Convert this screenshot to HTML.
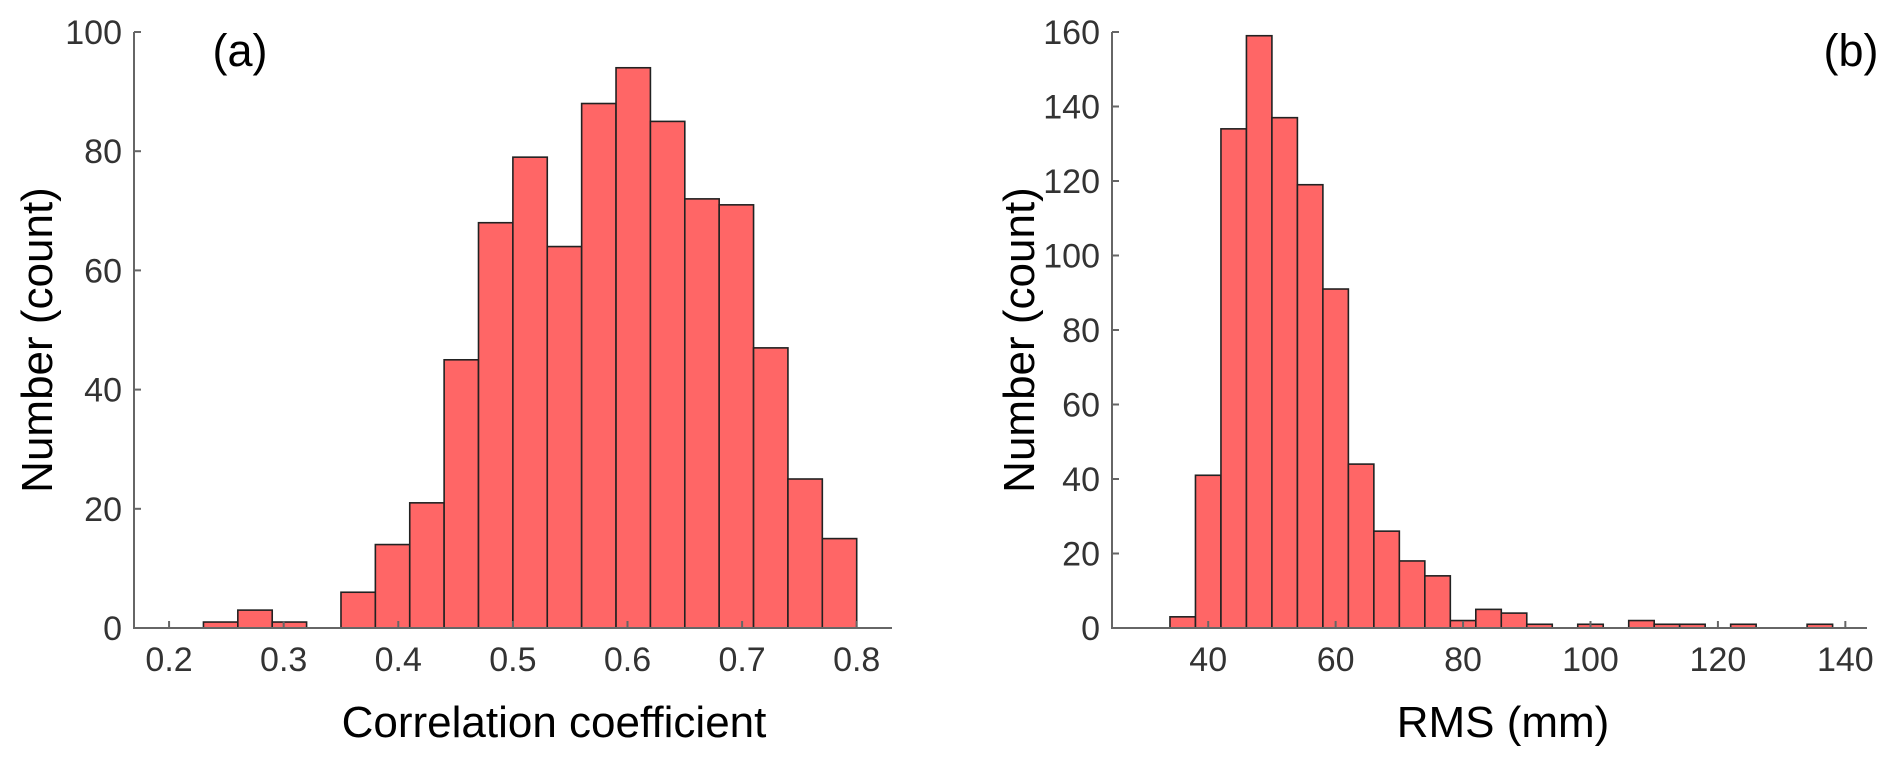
<!DOCTYPE html>
<html><head><meta charset="utf-8"><style>
body{margin:0;background:#fff;}
svg{display:block;font-family:"Liberation Sans",Arial,sans-serif;}
</style></head><body>
<svg id="fig" width="1892" height="765" viewBox="0 0 1892 765"></svg>
<script>
// Panel (a) data
const aBinEdgesStart = 0.20;
const aBinWidth = 0.03;
const aCounts = [0,1,3,1,0,6,14,21,45,68,79,64,88,94,85,72,71,47,25,15];
const aXTicks = [0.2,0.3,0.4,0.5,0.6,0.7,0.8];
const aYTicks = [0,20,40,60,80,100];
// Panel (b) data
const bBinEdgesStart = 30;
const bBinWidth = 4;
const bCounts = [0,3,41,134,159,137,119,91,44,26,18,14,2,5,4,1,0,1,0,2,1,1,0,1,0,0,1];
const bXTicks = [40,60,80,100,120,140];
const bYTicks = [0,20,40,60,80,100,120,140,160];

const NS='http://www.w3.org/2000/svg';
const svg=document.getElementById('fig');
function mk(tag,attrs,parent){const e=document.createElementNS(NS,tag);for(const k in attrs)e.setAttribute(k,attrs[k]);(parent||svg).appendChild(e);return e;}

function panel(cfg){
  const g=mk('g',{});
  
  
  const X=v=>cfg.x0+(v-cfg.xmin)/(cfg.xmax-cfg.xmin)*(cfg.x1-cfg.x0);
  const Y=v=>cfg.y0-(v-cfg.ymin)/(cfg.ymax-cfg.ymin)*(cfg.y0-cfg.y1);
  cfg.counts.forEach((c,i)=>{
    const l=cfg.start+i*cfg.bw, r=l+cfg.bw;
    const rect=mk('rect',{x:X(l),y:Y(c),width:X(r)-X(l),height:Y(0)-Y(c),fill:'#ff6666',stroke:'#222',"stroke-width":1.6},g);
    
    
  });
  const ax=mk('path',{d:`M${cfg.x0},${cfg.y1} V${cfg.y0} H${cfg.x1}`,fill:'none',stroke:'#666',"stroke-width":2},g);
  
  
  cfg.yt.forEach(v=>{
    mk('line',{x1:cfg.x0,x2:cfg.x0+7,y1:Y(v),y2:Y(v),stroke:'#666',"stroke-width":2},g);
    const t=mk('text',{x:cfg.x0-12,y:Y(v)+12,"text-anchor":'end',"font-size":34,fill:'#333'},g);
    t.textContent=v;
    
    
  });
  cfg.xt.forEach(v=>{
    mk('line',{x1:X(v),x2:X(v),y1:cfg.y0,y2:cfg.y0-7,stroke:'#666',"stroke-width":2},g);
    const t=mk('text',{x:X(v),y:cfg.y0+43,"text-anchor":'middle',"font-size":34,fill:'#333'},g);
    t.textContent=cfg.fmt(v);
    
    
  });
  const xt=mk('text',{x:cfg.xtx,y:737,"text-anchor":'middle',"font-size":44,fill:'#000'},g);
  xt.textContent=cfg.xtitle;
  
  
  const yt=mk('text',{x:0,y:0,"text-anchor":'middle',"font-size":44,fill:'#000',transform:`translate(${cfg.ytx},340) rotate(-90)`},g);
  yt.textContent='Number (count)';
  
  
  const pl=mk('text',{x:cfg.lx,y:66,"text-anchor":'middle',"font-size":45,fill:'#000'},g);
  pl.textContent=cfg.label;
  
  
}
panel({name:'histogram-correlation',x0:134,x1:892,y0:628,y1:32,xmin:0.1694,xmax:0.8308,ymin:0,ymax:100,
  start:aBinEdgesStart,bw:aBinWidth,counts:aCounts,xt:aXTicks,yt:aYTicks,fmt:v=>v.toFixed(1),
  xtitle:'Correlation coefficient',xtx:554,ytx:52,lx:240,label:'(a)'});
panel({name:'histogram-rms',x0:1112,x1:1867,y0:628,y1:32,xmin:24.9,xmax:143.4,ymin:0,ymax:160,
  start:bBinEdgesStart,bw:bBinWidth,counts:bCounts,xt:bXTicks,yt:bYTicks,fmt:v=>String(v),
  xtitle:'RMS (mm)',xtx:1503,ytx:1034,lx:1851,label:'(b)'});
</script>
</body></html>
